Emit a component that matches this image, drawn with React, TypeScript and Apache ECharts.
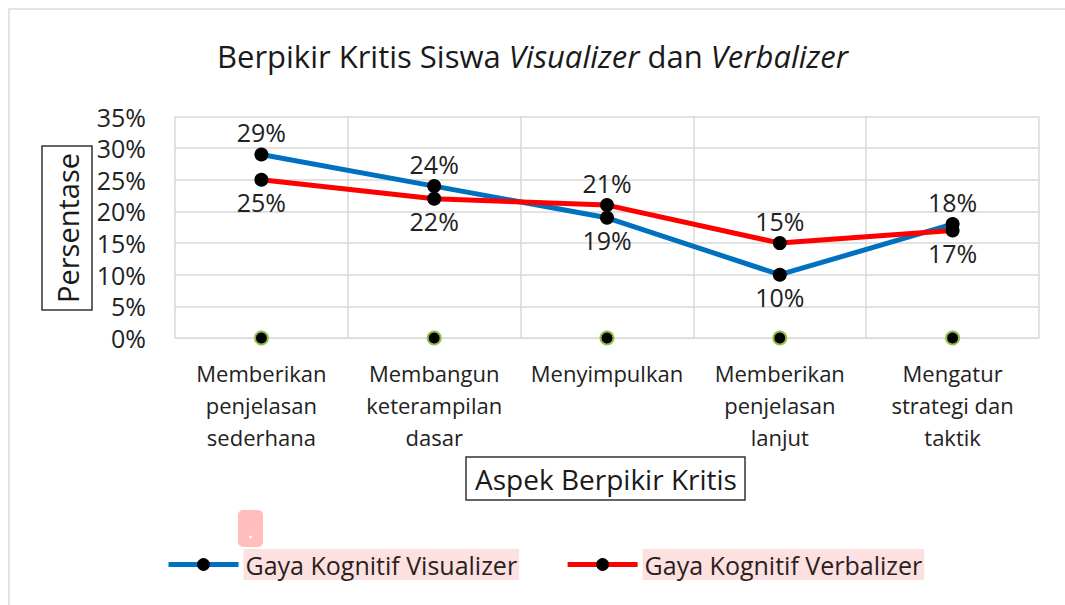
import React, { useEffect, useRef } from "react";
import * as echarts from "echarts";

const categories = [
  "Memberikan\npenjelasan\nsederhana",
  "Membangun\nketerampilan\ndasar",
  "Menyimpulkan",
  "Memberikan\npenjelasan\nlanjut",
  "Mengatur\nstrategi dan\ntaktik",
];
const visualizer = [29, 24, 19, 10, 18];
const verbalizer = [25, 22, 21, 15, 17];
const baseline = [0, 0, 0, 0, 0];
const visualizerLabelPos = ["top", "top", "bottom", "bottom", "top"];
const verbalizerLabelPos = ["bottom", "bottom", "top", "top", "bottom"];
const seriesNames = ["Gaya Kognitif Visualizer", "Gaya Kognitif Verbalizer"];

const FONT = "'Open Sans', Lato, sans-serif";

export default function App() {
  const ref = useRef<HTMLDivElement>(null);
  useEffect(() => {
    if (!ref.current) return;
    const chart = echarts.init(ref.current, undefined, { renderer: "svg" });
    const mk = (vals: number[], pos: string[]) =>
      vals.map((v, i) => ({ value: v, label: { position: pos[i] } }));
    chart.setOption({
      animation: false,
      backgroundColor: "#fff",
      textStyle: { fontFamily: FONT },
      title: {
        text: "Berpikir Kritis Siswa {i|Visualizer} dan {i|Verbalizer}",
        left: "center",
        top: 35,
        textStyle: {
          fontFamily: FONT,
          fontSize: 31,
          fontWeight: "normal",
          color: "#1a1a1a",
          rich: { i: { fontFamily: FONT, fontSize: 31, fontStyle: "italic", color: "#1a1a1a" } },
        },
      },
      grid: { left: 175, right: 26, top: 116.5, bottom: 267, containLabel: false },
      legend: {
        data: seriesNames,
        bottom: 20,
        left: 161,
        itemWidth: 70,
        itemHeight: 16,
        itemGap: 46,
        lineStyle: { width: 5 },
        textStyle: {
          fontFamily: FONT,
          fontSize: 25,
          color: "#2a1f1f",
          backgroundColor: "#fde0e0",
          padding: [3, 2, 3, 2],
        },
      },
      xAxis: {
        type: "category",
        data: categories,
        boundaryGap: true,
        axisLine: { lineStyle: { color: "#d9d9d9", width: 1 } },
        axisTick: { show: false },
        splitLine: { show: true, lineStyle: { color: "#d9d9d9", width: 1.5 } },
        axisLabel: {
          fontFamily: FONT,
          fontSize: 22,
          color: "#222",
          lineHeight: 32,
          margin: 19,
          interval: 0,
        },
      },
      yAxis: {
        type: "value",
        min: 0,
        max: 35,
        interval: 5,
        axisLine: { show: false },
        axisTick: { show: false },
        splitLine: { lineStyle: { color: "#d9d9d9", width: 1.5 } },
        axisLabel: {
          formatter: "{value}%",
          fontFamily: FONT,
          fontSize: 25,
          color: "#222",
          margin: 29,
        },
      },
      series: [
        {
          name: seriesNames[0],
          type: "line",
          data: mk(visualizer, visualizerLabelPos),
          lineStyle: { color: "#0070c0", width: 5 },
          itemStyle: { color: "#000" },
          color: "#0070c0",
          symbol: "circle",
          symbolSize: 14,
          z: 3,
          label: {
            show: true,
            formatter: "{c}%",
            fontFamily: FONT,
            fontSize: 25,
            color: "#222",
            distance: 3,
          },
        },
        {
          name: seriesNames[1],
          type: "line",
          data: mk(verbalizer, verbalizerLabelPos),
          lineStyle: { color: "#ff0000", width: 5 },
          itemStyle: { color: "#000" },
          color: "#ff0000",
          symbol: "circle",
          symbolSize: 14,
          z: 4,
          label: {
            show: true,
            formatter: "{c}%",
            fontFamily: FONT,
            fontSize: 25,
            color: "#222",
            distance: 3,
          },
        },
        {
          name: "baseline",
          type: "line",
          data: baseline,
          lineStyle: { opacity: 0 },
          symbol: "circle",
          symbolSize: 13,
          itemStyle: { color: "#000", borderColor: "#8fbf4a", borderWidth: 2 },
          z: 5,
        },
      ],
      graphic: [
        {
          type: "rect",
          shape: { x: 9, y: 9, width: 1200, height: 800 },
          style: { fill: "none", stroke: "#e3e3e3", lineWidth: 2 },
          silent: true,
        },
        {
          type: "rect",
          shape: { x: 42, y: 146, width: 50, height: 164 },
          style: { fill: "#fff", stroke: "#333", lineWidth: 1.5 },
        },
        {
          type: "text",
          x: 67,
          y: 228,
          rotation: Math.PI / 2,
          style: {
            text: "Persentase",
            fontFamily: FONT,
            fontSize: 29,
            fill: "#1a1a1a",
            align: "center",
            verticalAlign: "middle",
          },
        },
        {
          type: "rect",
          shape: { x: 466, y: 457, width: 279, height: 43 },
          style: { fill: "#fff", stroke: "#333", lineWidth: 1.5 },
        },
        {
          type: "text",
          x: 606,
          y: 479,
          style: {
            text: "Aspek Berpikir Kritis",
            fontFamily: FONT,
            fontSize: 28,
            fill: "#1a1a1a",
            align: "center",
            verticalAlign: "middle",
          },
        },
        {
          type: "rect",
          shape: { x: 238, y: 510, width: 25, height: 37, r: 5 },
          style: { fill: "#ffbdbd" },
        },
        {
          type: "circle",
          shape: { cx: 250.5, cy: 537, r: 1.5 },
          style: { fill: "#fff" },
        },
      ],
    });
    return () => chart.dispose();
  }, []);
  return <div ref={ref} style={{ width: 1065, height: 605, position: "absolute", left: 0, top: 0 }} />;
}
